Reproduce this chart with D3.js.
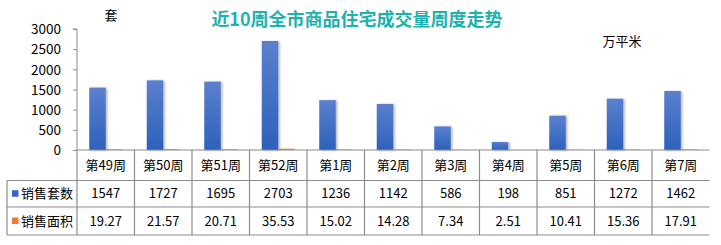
<!DOCTYPE html>
<html><head><meta charset="utf-8">
<script src="https://cdn.jsdelivr.net/npm/d3@7"></script>
<style>
html,body{margin:0;padding:0;background:#fff;}
svg{display:block;font-family:"Microsoft YaHei","Noto Sans CJK SC",sans-serif;}
</style></head>
<body><svg id="c" width="721" height="245"></svg>
<script>
const title = "近10周全市商品住宅成交量周度走势";
const categories = ["第49周","第50周","第51周","第52周","第1周","第2周","第3周","第4周","第5周","第6周","第7周"];
const seriesNames = ["销售套数","销售面积"];
const units = [1547,1727,1695,2703,1236,1142,586,198,851,1272,1462];
const area = [19.27,21.57,20.71,35.53,15.02,14.28,7.34,2.51,10.41,15.36,17.91];
const areaLabels = ["19.27","21.57","20.71","35.53","15.02","14.28","7.34","2.51","10.41","15.36","17.91"];
const yTicks = [0,500,1000,1500,2000,2500,3000];

const svg = d3.select("#c");
const defs = svg.append("defs");
const gb = defs.append("linearGradient").attr("id","gb").attr("x1",0).attr("y1",0).attr("x2",0).attr("y2",1);
gb.append("stop").attr("offset","0%").attr("stop-color","#5b80cd");
gb.append("stop").attr("offset","100%").attr("stop-color","#2d61bc");
const go = defs.append("linearGradient").attr("id","go").attr("x1",0).attr("y1",0).attr("x2",0).attr("y2",1);
go.append("stop").attr("offset","0%").attr("stop-color","#f0a070");
go.append("stop").attr("offset","100%").attr("stop-color","#e5782f");
const f = defs.append("filter").attr("id","sh").attr("x","-30%").attr("y","-10%").attr("width","170%").attr("height","130%");
f.append("feDropShadow").attr("dx",1.5).attr("dy",0.5).attr("stdDeviation",1.2).attr("flood-color","#000").attr("flood-opacity",0.3);

const L = 77, R = 709.5, T = 29, B = 150;
const x = d3.scaleBand().domain(categories).range([L,R]).padding(0);
const y = d3.scaleLinear().domain([0,3000]).range([B,T]);
const bw = 16.5;
const axisCol = "#8c8c8c";

// title
svg.append("text").attr("x",357).attr("y",26).attr("text-anchor","middle")
  .attr("font-size",18).attr("font-weight","bold").attr("fill","#1cb2ad").text(title);
svg.append("text").attr("x",111).attr("y",20).attr("text-anchor","middle").attr("font-size",13).attr("fill","#000").text("套");
svg.append("text").attr("x",622).attr("y",46).attr("text-anchor","middle").attr("font-size",13).attr("fill","#000").text("万平米");

// bars
svg.append("g").selectAll("rect").data(categories).join("rect")
  .attr("x",d=>x(d)+x.bandwidth()/2-bw).attr("width",bw)
  .attr("y",(d,i)=>y(units[i])).attr("height",(d,i)=>B-y(units[i]))
  .attr("fill","url(#gb)").attr("filter","url(#sh)");
svg.append("g").selectAll("rect").data(categories).join("rect")
  .attr("x",d=>x(d)+x.bandwidth()/2).attr("width",bw)
  .attr("y",(d,i)=>y(area[i])).attr("height",(d,i)=>B-y(area[i]))
  .attr("fill","url(#go)");

// y axis
const ya = d3.axisLeft(y).tickValues(yTicks).tickFormat(d3.format("d")).tickSize(4).tickPadding(12);
const yg = svg.append("g").attr("transform",`translate(${L},0)`).call(ya);
yg.select(".domain").attr("stroke",axisCol).attr("d",`M-4,${T}H0V${B}`);
yg.selectAll(".tick line").attr("stroke",axisCol);
yg.selectAll(".tick text").attr("font-size",13.5).attr("fill","#000").attr("dy","0.35em")
  .attr("font-family","'Microsoft YaHei','Noto Sans CJK SC',sans-serif");

// table
const r1 = 180.5, r2 = 207, r3 = 235, tl = 7;
const g = svg.append("g").attr("stroke",axisCol).attr("stroke-width",1.2);
g.append("line").attr("x1",L).attr("x2",R).attr("y1",B).attr("y2",B);
[r1,r2,r3].forEach(v=>g.append("line").attr("x1",tl).attr("x2",R).attr("y1",v).attr("y2",v));
g.append("line").attr("x1",tl).attr("x2",tl).attr("y1",r1).attr("y2",r3);
categories.forEach(c=>g.append("line").attr("x1",x(c)).attr("x2",x(c)).attr("y1",B).attr("y2",r3));

const tx = svg.append("g").attr("font-size",13).attr("fill","#000").attr("text-anchor","middle");
tx.selectAll(".c").data(categories).join("text").attr("class","c")
  .attr("x",d=>x(d)+x.bandwidth()/2).attr("y",(B+r1)/2).attr("dy","0.36em").text(d=>d);
tx.selectAll(".u").data(categories).join("text").attr("class","u")
  .attr("x",d=>x(d)+x.bandwidth()/2).attr("y",(r1+r2)/2).attr("dy","0.36em").text((d,i)=>units[i]);
tx.selectAll(".a").data(categories).join("text").attr("class","a")
  .attr("x",d=>x(d)+x.bandwidth()/2).attr("y",(r2+r3)/2).attr("dy","0.36em").text((d,i)=>areaLabels[i]);

// legend keys in table
const lg = svg.append("g");
[["#3a66c4",(r1+r2)/2],["#ed7d31",(r2+r3)/2]].forEach((k,i)=>{
  lg.append("rect").attr("x",12).attr("y",k[1]-3.5).attr("width",6.5).attr("height",6.5).attr("fill",k[0]);
  lg.append("text").attr("x",21).attr("y",k[1]).attr("dy","0.36em").attr("font-size",13).text(seriesNames[i]);
});
</script></body></html>
